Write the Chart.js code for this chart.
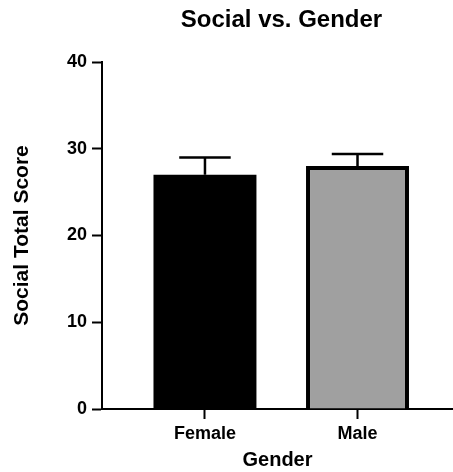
<!DOCTYPE html>
<html>
<head>
<meta charset="utf-8">
<script src="https://cdn.jsdelivr.net/npm/chart.js@4/dist/chart.umd.min.js"></script>
<style>
  html, body { margin: 0; padding: 0; background: #fff; }
</style>
</head>
<body>
<canvas id="chart" width="453" height="472"></canvas>
<script>
// data (mean and upper error)
var categories = ["Female", "Male"];
var means = [27.0, 28.0];
var errors = [2.0, 1.4];
var barColors = ["#000000", "#a0a0a0"];
var yTicks = [0, 10, 20, 30, 40];

var FONT = "'Liberation Sans', Arial, sans-serif";
Chart.defaults.font.family = FONT;
Chart.defaults.font.weight = 'bold';
Chart.defaults.color = '#000';

// error bars (upper only) + main title
var errorBars = {
  id: 'errorBars',
  afterDatasetsDraw: function(chart) {
    var ctx = chart.ctx;
    var y = chart.scales.y;
    chart.getDatasetMeta(0).data.forEach(function(bar, i) {
      var top = y.getPixelForValue(means[i] + errors[i]);
      var half = bar.width / 4;
      ctx.save();
      ctx.strokeStyle = '#000';
      ctx.lineWidth = 2.5;
      ctx.beginPath();
      ctx.moveTo(bar.x, bar.y);
      ctx.lineTo(bar.x, top);
      ctx.moveTo(bar.x - half, top);
      ctx.lineTo(bar.x + half, top);
      ctx.stroke();
      ctx.restore();
    });
  },
  afterDraw: function(chart) {
    var ctx = chart.ctx;
    var area = chart.chartArea;
    ctx.save();
    ctx.font = "bold 24px " + FONT;
    ctx.fillStyle = '#000';
    ctx.textAlign = 'center';
    ctx.textBaseline = 'middle';
    ctx.fillText("Social vs. Gender", (area.left + area.right) / 2 + 4, 20);
    ctx.restore();
  }
};

new Chart(document.getElementById("chart"), {
  type: 'bar',
  data: {
    datasets: [{
      data: categories.map(function(c, i) { return {x: i + 1, y: means[i]}; }),
      backgroundColor: barColors,
      borderColor: '#000',
      borderWidth: [0, 4], // black bar needs no separate border
      borderSkipped: 'start',
      barPercentage: 1,
      categoryPercentage: 0.675
    }]
  },
  options: {
    responsive: false,
    animation: false,
    layout: { padding: { top: 62, left: 0, right: 0, bottom: 0 } },
    plugins: {
      legend: { display: false },
      tooltip: { enabled: false }
    },
    scales: {
      x: {
        type: 'linear',
        offset: false,
        min: 0.325,
        max: 2.626,
        afterFit: function(s) { s.height = 63; },
        afterBuildTicks: function(s) {
          s.ticks = categories.map(function(c, i) { return {value: i + 1}; });
        },
        ticks: {
          font: { size: 18, weight: 'bold' },
          padding: 4,
          callback: function(v) { return categories[v - 1]; }
        },
        grid: { offset: false, drawOnChartArea: false, tickLength: 10, tickWidth: 2, tickColor: '#000' },
        border: { display: true, color: '#000', width: 2 },
        title: {
          display: true,
          text: 'Gender',
          font: { size: 20, weight: 'bold' },
          padding: { top: 0, bottom: 0 }
        }
      },
      y: {
        min: 0,
        max: 40,
        afterFit: function(s) { s.width = 102; },
        afterBuildTicks: function(s) {
          s.ticks = yTicks.map(function(v) { return {value: v}; });
        },
        ticks: { font: { size: 18, weight: 'bold' }, padding: 5 },
        grid: { drawOnChartArea: false, tickLength: 10, tickWidth: 2, tickColor: '#000' },
        border: { display: true, color: '#000', width: 2 },
        title: {
          display: true,
          text: 'Social Total Score',
          font: { size: 21, weight: 'bold' },
          padding: { top: 10, bottom: 0 }
        }
      }
    }
  },
  plugins: [errorBars]
});
</script>
</body>
</html>
